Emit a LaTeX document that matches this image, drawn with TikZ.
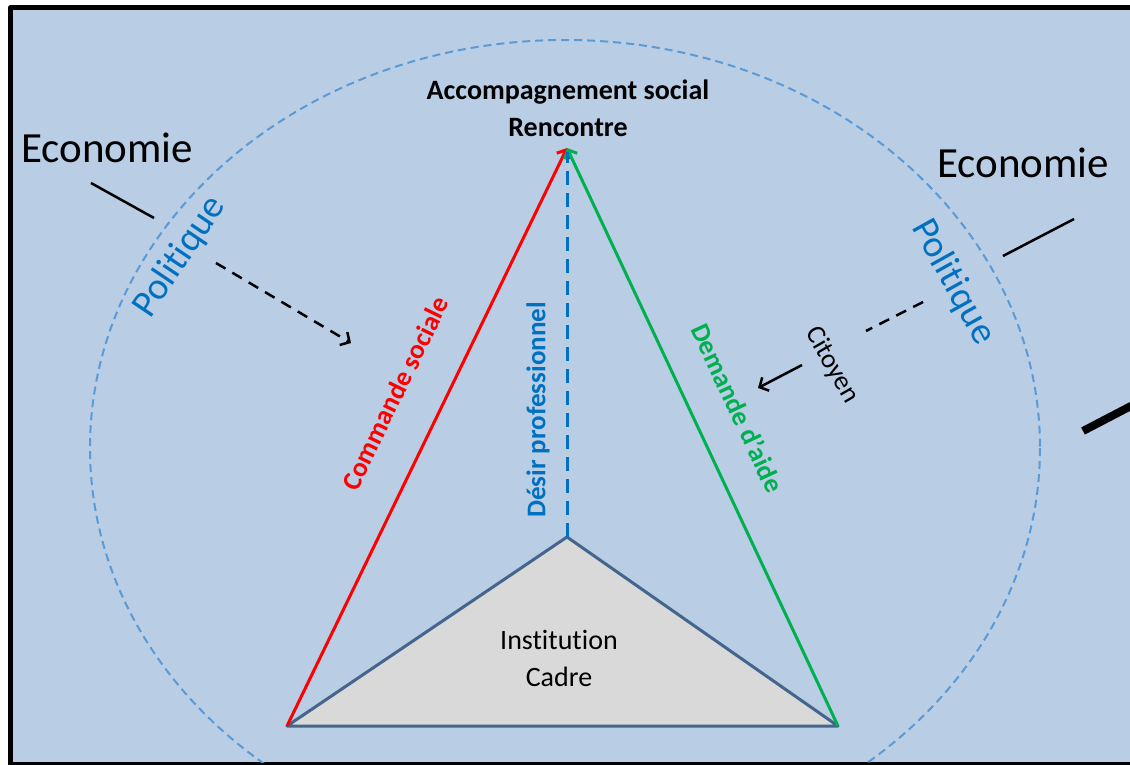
\documentclass[tikz,border=0pt]{standalone}
\usepackage{fontspec}
\setmainfont{Carlito}[Ligatures={NoCommon}]
\usetikzlibrary{arrows.meta}
\definecolor{bg}{RGB}{185,205,229}
\definecolor{circ}{RGB}{91,155,213}
\definecolor{pol}{RGB}{0,112,192}
\definecolor{tri}{RGB}{217,217,217}
\definecolor{triedge}{RGB}{68,101,140}
\definecolor{myred}{RGB}{255,0,0}
\definecolor{mygreen}{RGB}{0,176,80}
\begin{document}
\begin{tikzpicture}[x=1pt,y=-1pt,
  lbl/.style={inner sep=0pt, text=black},
  eco/.style={lbl, font=\fontsize{43}{52}\selectfont},
  polit/.style={lbl, text=pol, font=\fontsize{38}{46}\selectfont},
  side/.style={lbl, font=\bfseries\fontsize{27}{33}\selectfont},
  thinblack/.style={line width=2.5pt, black},
  barb/.style={-{Straight Barb[length=7pt,width=14pt]}},
  smallbarb/.style={-{Straight Barb[length=7pt,width=15pt]}}
]
\useasboundingbox (0,0) rectangle (1130,764);
% background frame
\fill[white] (-20,-20) rectangle (1200,800);
\fill[bg] (10.5,7.5) rectangle (1200,764.5);
\draw[line width=5pt, line join=round] (1200,7.5) -- (10.5,7.5) -- (10.5,764.5) -- (1200,764.5);
% dashed ellipse
\begin{scope}
\clip (12,10) rectangle (1200,762);
\draw[circ, line width=2pt, dash pattern=on 8pt off 5pt] (565,448) ellipse [x radius=475, y radius=408];
\end{scope}
% coordinates
\coordinate (apex) at (567,148);
\coordinate (bl) at (287,726);
\coordinate (br) at (838,726);
\coordinate (tt) at (567,537);
\coordinate (dtop) at (567,152);
% grey triangle
\draw[fill=tri, draw=triedge, line width=3pt, line join=round] (bl) -- (tt) -- (br) -- cycle;
% sides
\draw[myred, line width=3pt, barb] (bl) -- (apex);
\draw[mygreen, line width=3pt, barb] (br) -- (apex);
\draw[pol, line width=3pt, dash pattern=on 14pt off 8pt] (tt) -- (dtop);
% top label
\node[lbl, font=\bfseries\fontsize{28}{37}\selectfont, align=center] (top) at (568,108) {Accompagnement social\\Rencontre};
% triangle label
\node[lbl, font=\fontsize{28}{37}\selectfont, align=center] (inst) at (559,658) {Institution\\Cadre};
% side labels
\node[side, text=myred, rotate=64] (cmd) at (395,393) {Commande sociale};
\node[side, text=pol, rotate=90] (des) at (538,410) {Désir professionnel};
\node[side, text=mygreen, rotate=-65] (dem) at (738,408) {Demande d’aide};
% economie / politique
\node[eco] (ecoL) at (107,148) {Economie};
\node[eco] (ecoR) at (1023,163) {Economie};
\node[polit, rotate=56] (polL) at (180,257) {Politique};
\node[polit, rotate=-61] (polR) at (953,282) {Politique};
\node[lbl, font=\fontsize{27}{33}\selectfont, rotate=-60] (cit) at (832,365) {Citoyen};
% small lines
\coordinate (l1a) at (91,183); \coordinate (l1b) at (154,218);
\draw[thinblack] (l1a) -- (l1b);
\coordinate (r1a) at (1003,256); \coordinate (r1b) at (1074,219);
\draw[thinblack] (r1a) -- (r1b);
% dashed arrow left
\coordinate (da1) at (216,263); \coordinate (da2) at (351,343);
\draw[thinblack, dash pattern=on 11pt off 8pt, smallbarb] (da1) -- (da2);
% dashed line right
\coordinate (dr1) at (923,302); \coordinate (dr2) at (866,331);
\draw[thinblack, dash pattern=on 11pt off 8pt] (dr1) -- (dr2);
% citoyen arrow
\coordinate (ca1) at (802,365); \coordinate (ca2) at (758,388);
\draw[thinblack, smallbarb] (ca1) -- (ca2);
% thick black line right
\coordinate (tb1) at (1083,431); \coordinate (tb2) at (1200,370);
\draw[line width=8pt, black] (tb1) -- (tb2);
\end{tikzpicture}
\end{document}
